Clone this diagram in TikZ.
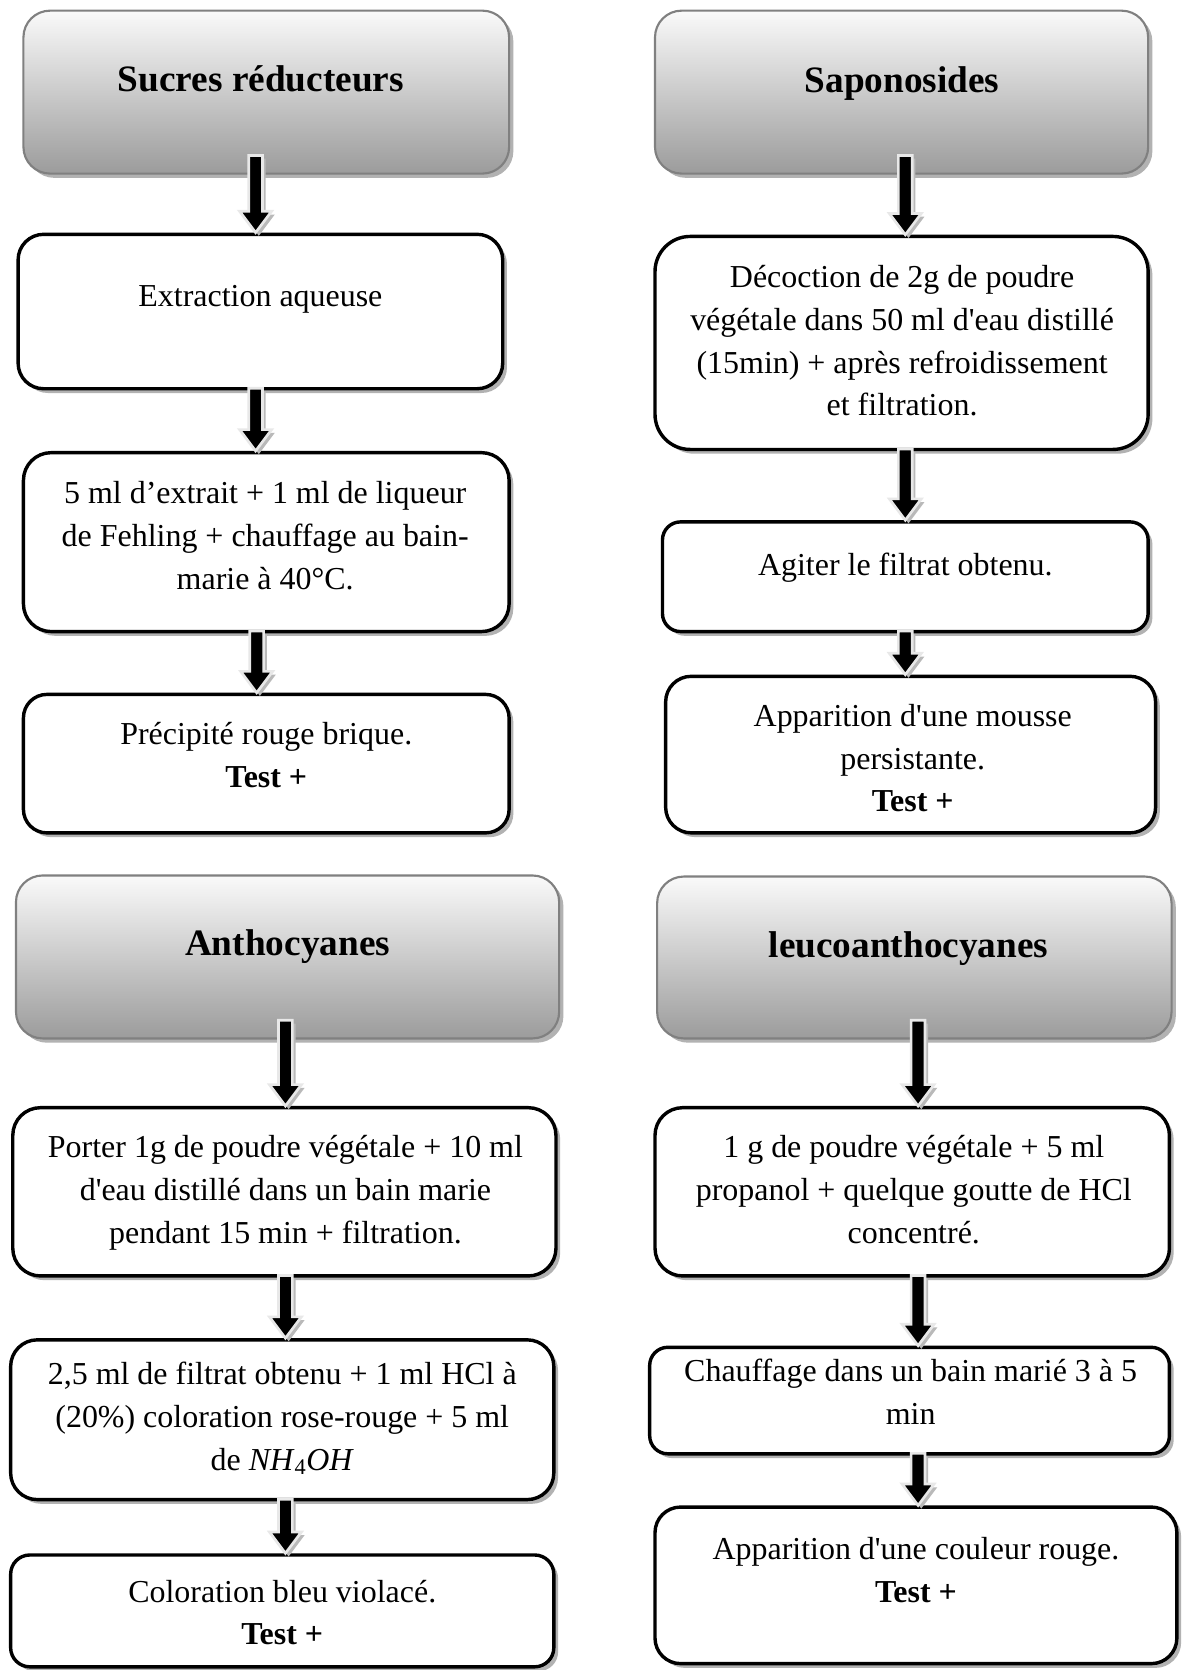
\RequirePackage{fix-cm}
\documentclass[tikz,border=0pt]{standalone}
\usepackage{fontspec}
\setmainfont{Liberation Serif}
\usetikzlibrary{shadows,calc}

% straight apostrophe
\newcommand{\ap}{\textquotesingle}

% block arrow with a grey shadow, from the bottom of #1 to the top of #2,
% at horizontal position #3, starting #4 above the bottom of #1
\newcommand{\flowarrow}[4]{%
  \fill[arrowshadow] let \p1=(#1.south), \p2=(#2.north) in
    ({#3-3.5pt},{\y1+#4-3pt}) -- ({#3+9.5pt},{\y1+#4-3pt}) --
    ({#3+9.5pt},{\y2+17pt}) -- ({#3+18pt},{\y2+17pt}) --
    ({#3+3pt},{\y2-3pt}) -- ({#3-12pt},{\y2+17pt}) --
    ({#3-3.5pt},{\y2+17pt}) -- cycle;
  \filldraw[arrowbody] let \p1=(#1.south), \p2=(#2.north) in
    ({#3-6.5pt},{\y1+#4}) -- ({#3+6.5pt},{\y1+#4}) --
    ({#3+6.5pt},{\y2+20pt}) -- ({#3+15pt},{\y2+20pt}) --
    ({#3},{\y2}) -- ({#3-15pt},{\y2+20pt}) --
    ({#3-6.5pt},{\y2+20pt}) -- cycle;
}

\begin{document}
\begin{tikzpicture}[x=1pt,y=-1pt,
  box/.style={draw=black, line width=3.2pt, fill=white, rounded corners=#1,
    drop shadow={shadow xshift=4pt, shadow yshift=-4pt, fill=gray!60, opacity=1}},
  headbox/.style={draw=gray, line width=2pt, top color=gray!4, bottom color=gray!78,
    rounded corners=25pt,
    drop shadow={shadow xshift=4pt, shadow yshift=-4pt, fill=gray!60, opacity=1}},
  bodytext/.style={font=\fontsize{30}{40}\selectfont, align=center, inner sep=0pt},
  headtext/.style={font=\fontsize{35}{42}\selectfont\bfseries, inner sep=0pt},
  arrowbody/.style={fill=black, draw=gray!18, line width=2.5pt, line join=miter},
  arrowshadow/.style={fill=gray!55},
]
\useasboundingbox[fill=white] (0,0) rectangle (1110,1568);

% ---------- Sucres réducteurs ----------
\node[headbox, minimum width=456pt, minimum height=153pt] (h1) at (250,86.5) {};
\node[headtext] (h1t) at (245,74) {Sucres réducteurs};
\node[box=24pt, minimum width=455pt, minimum height=145pt] (b1) at (244.5,292.5) {};
\node[bodytext] (b1t) at (244.5,281) {Extraction aqueuse};
\node[box=26pt, minimum width=456pt, minimum height=168pt] (b2) at (250,509) {};
\node[bodytext] (b2t) at (249,503) {5 ml d’extrait + 1 ml de liqueur\\de Fehling + chauffage au bain-\\marie à 40°C.};
\node[box=22pt, minimum width=456pt, minimum height=130pt] (b3) at (250,717) {};
\node[bodytext] (b3t) at (250,709) {Précipité rouge brique.\\\textbf{Test +}};

\flowarrow{h1}{b1}{240pt}{18pt}
\flowarrow{b1}{b2}{240pt}{2pt}
\flowarrow{b2}{b3}{241pt}{2pt}

% ---------- Saponosides ----------
\node[headbox, minimum width=463pt, minimum height=153pt] (h3) at (846.5,86.5) {};
\node[headtext] (h3t) at (847,78) {Saponosides};
\node[box=33pt, minimum width=463pt, minimum height=200pt] (b7) at (846.5,322) {};
\node[bodytext] (b7t) at (847,320) {Décoction de 2g de poudre\\végétale dans 50 ml d\ap eau distillé\\(15min) + après refroidissement\\et filtration.};
\node[box=17pt, minimum width=456pt, minimum height=103pt] (b8) at (850,541.5) {};
\node[bodytext] (b8t) at (850,533) {Agiter le filtrat obtenu.};
\node[box=24pt, minimum width=460pt, minimum height=147pt] (b9) at (855,708.5) {};
\node[bodytext] (b9t) at (857,712) {Apparition d\ap une mousse\\persistante.\\\textbf{Test +}};

\flowarrow{h3}{b7}{850pt}{18pt}
\flowarrow{b7}{b8}{850pt}{2pt}
\flowarrow{b8}{b9}{850pt}{2pt}

% ---------- Anthocyanes ----------
\node[headbox, minimum width=510pt, minimum height=153pt] (h2) at (270,898.5) {};
\node[headtext] (h2t) at (270,889) {Anthocyanes};
\node[box=26pt, minimum width=510pt, minimum height=158pt] (b4) at (267,1119) {};
\node[bodytext] (b4t) at (268,1120) {Porter 1g de poudre végétale + 10 ml\\d\ap eau distillé dans un bain marie\\pendant 15 min + filtration.};
\node[box=25pt, minimum width=510pt, minimum height=150pt] (b5) at (265,1333) {};
\node[bodytext] (b5t) at (265,1332) {2,5 ml de filtrat obtenu + 1 ml HCl à\\(20\%) coloration rose-rouge + 5 ml\\de \textit{NH}\textsubscript{4}\textit{OH}};
\node[box=18pt, minimum width=510pt, minimum height=105pt] (b6) at (265,1512.5) {};
\node[bodytext] (b6t) at (265,1514) {Coloration bleu violacé.\\\textbf{Test +}};

\flowarrow{h2}{b4}{268pt}{18pt}
\flowarrow{b4}{b5}{268pt}{2pt}
\flowarrow{b5}{b6}{268pt}{2pt}

% ---------- leucoanthocyanes ----------
\node[headbox, minimum width=483pt, minimum height=152pt] (h4) at (858.5,899) {};
\node[headtext] (h4t) at (853,891) {leucoanthocyanes};
\node[box=26pt, minimum width=483pt, minimum height=158pt] (b10) at (856.5,1119) {};
\node[bodytext] (b10t) at (858,1117) {1 g de poudre végétale + 5 ml\\propanol + quelque goutte de HCl\\concentré.};
\node[box=17pt, minimum width=488pt, minimum height=100pt] (b11) at (854,1315) {};
\node[bodytext] (b11t) at (855,1307) {Chauffage dans un bain marié 3 à 5\\min};
\node[box=24pt, minimum width=490pt, minimum height=147pt] (b12) at (860,1488.5) {};
\node[bodytext] (b12t) at (860,1474) {Apparition d\ap une couleur rouge.\\\textbf{Test +}};

\flowarrow{h4}{b10}{862pt}{18pt}
\flowarrow{b10}{b11}{862pt}{2pt}
\flowarrow{b11}{b12}{862pt}{2pt}
\end{tikzpicture}
\end{document}
